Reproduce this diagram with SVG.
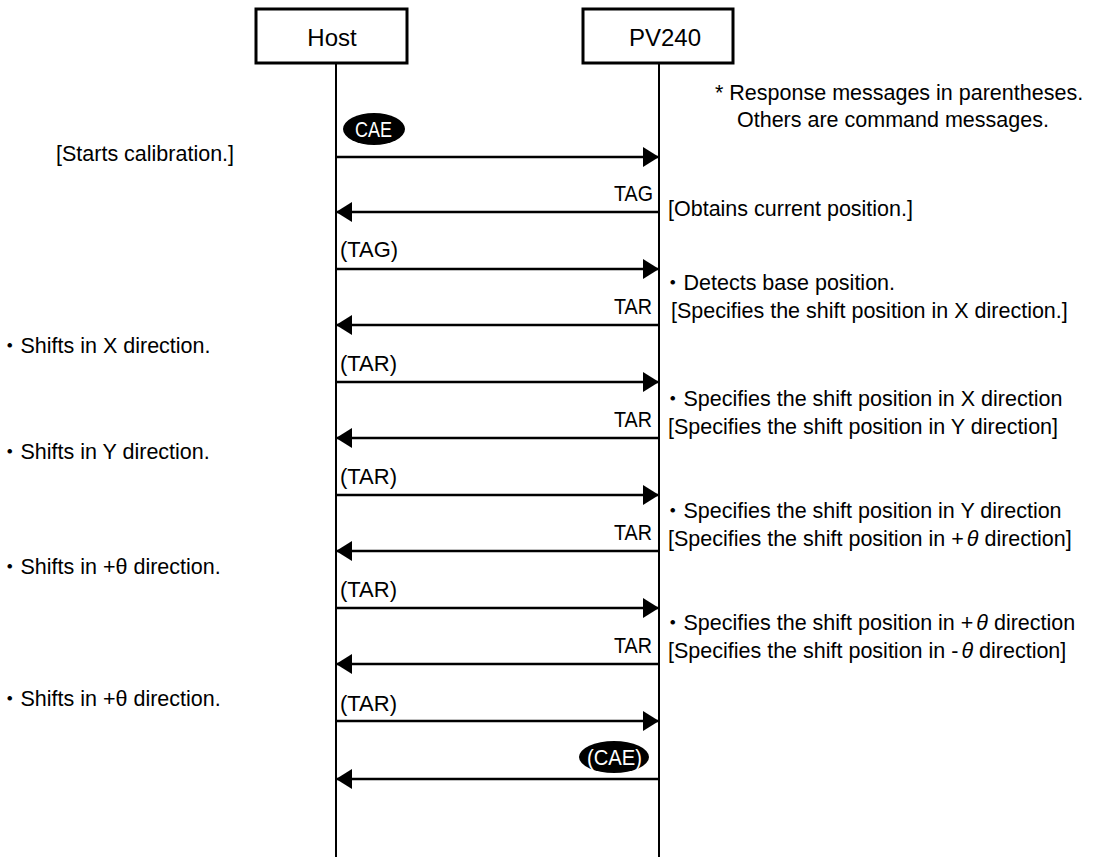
<svg xmlns="http://www.w3.org/2000/svg" width="1097" height="857" viewBox="0 0 1097 857">
  <style>
    .box { fill: #fff; stroke: #000; stroke-width: 3; }
    .life { stroke: #000; stroke-width: 2; }
    .msg { stroke: #000; stroke-width: 2.5; fill: none; }
    .title { font-family: "Liberation Sans", Arial, sans-serif; font-size: 24px; fill: #000; }
    .lbl { font-family: "Liberation Sans", Arial, sans-serif; font-size: 22px; fill: #000; }
    .inv { fill: #fff; }
    .note { font-family: "Liberation Sans", Arial, "Noto Sans CJK JP", sans-serif; font-size: 21.5px; fill: #000; }
    .th { font-style: italic; }
  </style>
  <defs>
    <marker id="head" markerUnits="userSpaceOnUse" markerWidth="18" markerHeight="20" refX="16" refY="10" orient="auto">
      <path d="M0,0 L16,10 L0,20 Z" fill="#000"/>
    </marker>
  </defs>

  <!-- participants -->
  <g id="host">
    <rect class="box" x="256" y="9" width="151" height="54"/>
    <text class="title" x="332" y="46" text-anchor="middle">Host</text>
  </g>
  <g id="pv240">
    <rect class="box" x="583" y="9" width="150" height="54"/>
    <text class="title" x="665" y="46" text-anchor="middle">PV240</text>
  </g>

  <!-- lifelines and messages -->
  <g id="connectors">
    <line class="life" x1="336" y1="63" x2="336" y2="857"/>
    <line class="life" x1="659" y1="63" x2="659" y2="857"/>

    <line class="msg" x1="336" y1="157" x2="659" y2="157" marker-end="url(#head)"/>
    <line class="msg" x1="659" y1="212" x2="336" y2="212" marker-end="url(#head)"/>
    <line class="msg" x1="336" y1="269" x2="659" y2="269" marker-end="url(#head)"/>
    <line class="msg" x1="659" y1="325" x2="336" y2="325" marker-end="url(#head)"/>
    <line class="msg" x1="336" y1="382" x2="659" y2="382" marker-end="url(#head)"/>
    <line class="msg" x1="659" y1="438" x2="336" y2="438" marker-end="url(#head)"/>
    <line class="msg" x1="336" y1="495" x2="659" y2="495" marker-end="url(#head)"/>
    <line class="msg" x1="659" y1="551" x2="336" y2="551" marker-end="url(#head)"/>
    <line class="msg" x1="336" y1="608" x2="659" y2="608" marker-end="url(#head)"/>
    <line class="msg" x1="659" y1="664" x2="336" y2="664" marker-end="url(#head)"/>
    <line class="msg" x1="336" y1="721" x2="659" y2="721" marker-end="url(#head)"/>
    <line class="msg" x1="659" y1="779" x2="336" y2="779" marker-end="url(#head)"/>
  </g>

  <!-- message labels -->
  <g id="msg-labels">
    <ellipse cx="374" cy="129" rx="31" ry="16" fill="#000"/>
    <text class="lbl inv" x="355" y="137" textLength="37" lengthAdjust="spacingAndGlyphs">CAE</text>
    <text class="lbl" x="614" y="201" textLength="39" lengthAdjust="spacingAndGlyphs">TAG</text>
    <text class="lbl" x="340" y="257" textLength="58" lengthAdjust="spacingAndGlyphs">(TAG)</text>
    <text class="lbl" x="614" y="314" textLength="38" lengthAdjust="spacingAndGlyphs">TAR</text>
    <text class="lbl" x="340" y="371" textLength="57" lengthAdjust="spacingAndGlyphs">(TAR)</text>
    <text class="lbl" x="614" y="427" textLength="38" lengthAdjust="spacingAndGlyphs">TAR</text>
    <text class="lbl" x="340" y="484" textLength="57" lengthAdjust="spacingAndGlyphs">(TAR)</text>
    <text class="lbl" x="614" y="540" textLength="38" lengthAdjust="spacingAndGlyphs">TAR</text>
    <text class="lbl" x="340" y="597" textLength="57" lengthAdjust="spacingAndGlyphs">(TAR)</text>
    <text class="lbl" x="614" y="653" textLength="38" lengthAdjust="spacingAndGlyphs">TAR</text>
    <text class="lbl" x="340" y="711" textLength="57" lengthAdjust="spacingAndGlyphs">(TAR)</text>
    <ellipse cx="614" cy="757" rx="35" ry="16" fill="#000"/>
    <text class="lbl inv" x="587" y="765" textLength="55" lengthAdjust="spacingAndGlyphs">(CAE)</text>
  </g>

  <!-- host-side notes -->
  <g id="host-notes">
    <text class="note" x="56" y="161">[Starts calibration.]</text>
    <text class="note" x="-1" y="353">・Shifts in X direction.</text>
    <text class="note" x="-1" y="459">・Shifts in Y direction.</text>
    <text class="note" x="-1" y="574">・Shifts in +θ direction.</text>
    <text class="note" x="-1" y="706">・Shifts in +θ direction.</text>
  </g>

  <!-- PV240-side notes -->
  <g id="pv-notes">
    <text class="note" x="715" y="100">* Response messages in parentheses.</text>
    <text class="note" x="737" y="127">Others are command messages.</text>
    <text class="note" x="668" y="216">[Obtains current position.]</text>
    <text class="note" x="662" y="290">・Detects base position.</text>
    <text class="note" x="671" y="318">[Specifies the shift position in X direction.]</text>
    <text class="note" x="662" y="406">・Specifies the shift position in X direction</text>
    <text class="note" x="668" y="434">[Specifies the shift position in Y direction]</text>
    <text class="note" x="662" y="518">・Specifies the shift position in Y direction</text>
    <text class="note" x="668" y="546">[Specifies the shift position in +<tspan class="th" dx="3">θ</tspan> direction]</text>
    <text class="note" x="662" y="630">・Specifies the shift position in +<tspan class="th" dx="3">θ</tspan> direction</text>
    <text class="note" x="668" y="658">[Specifies the shift position in -<tspan class="th" dx="3">θ</tspan> direction]</text>
  </g>
</svg>
